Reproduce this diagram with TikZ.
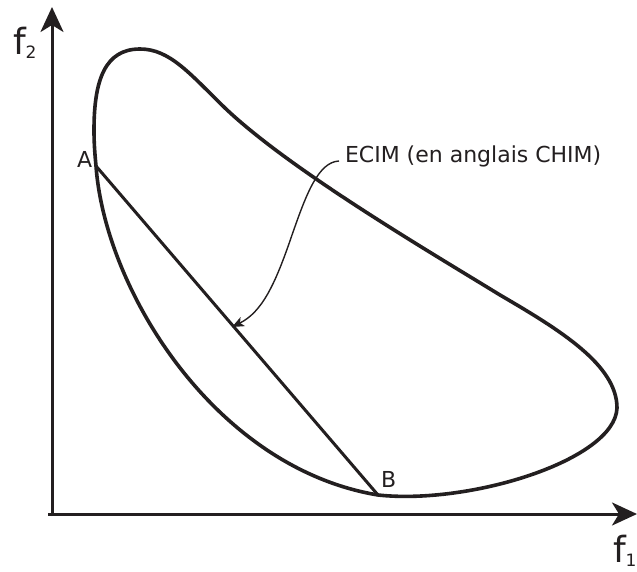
\documentclass[tikz,border=0pt]{standalone}
\usepackage{fontspec}
\setmainfont{DejaVu Sans}
\usetikzlibrary{arrows.meta}
\definecolor{ink}{HTML}{231F20}
\tikzset{
  lbl/.style={inner sep=0pt, outer sep=0pt, anchor=base west, text=ink, font=\fontsize{22}{24}\selectfont},
  axis/.style={draw=ink, line width=3pt, -{Stealth[length=25pt,width=23pt,inset=7pt]}},
  blob/.style={draw=ink, line width=3.6pt, line join=round},
  seg/.style={draw=ink, line width=3pt},
  leader/.style={draw=ink, line width=1.4pt, -{Stealth[length=12pt,width=10pt,inset=3pt]}},
}
\begin{document}
\begin{tikzpicture}[x=1pt,y=-1pt]
\useasboundingbox (0,0) rectangle (637,572);
% axes
\coordinate (o1) at (52,516);
\coordinate (ytip) at (52,7);
\coordinate (o2) at (48,514);
\coordinate (xtip) at (637,514);
\draw[axis] (o1) -- (ytip);
\draw[axis] (o2) -- (xtip);
\node[lbl] (f2) at (13,55) {\fontsize{36}{40}\selectfont f\raisebox{-4pt}{\fontsize{17}{20}\selectfont 2}};
\node[lbl] (f1) at (613,562) {\fontsize{36}{40}\selectfont f\raisebox{-4pt}{\fontsize{17}{20}\selectfont 1}};
% segment AB end points
\coordinate (A) at (96,166);
\coordinate (B) at (378,495);
% blob
\draw[blob] (A) .. controls (105,290) and (215,468) .. (B)
  .. controls (470,505) and (615,460) .. (617,408)
  .. controls (617,365) and (560,330) .. (500,295)
  .. controls (430,252) and (290,170) .. (225,108)
  .. controls (190,74) and (170,49) .. (140,49)
  .. controls (105,49) and (94,80) .. (94,130)
  .. controls (94,145) and (95,155) .. (A) -- cycle;
% segment AB
\draw[seg] (A) -- (B);
\node[lbl] (la) at (77,168) {A};
\node[lbl] (lb) at (381,487) {B};
% label and leader
\node[lbl] (ecim) at (345,162.5) {ECIM (en anglais CHIM)};
\coordinate (ls) at (339,161);
\coordinate (lt) at (232,327);
\draw[leader] (ls) .. controls (318,162) and (306,195) .. (292,235) .. controls (275,285) and (262,312) .. (lt);
\end{tikzpicture}
\end{document}
